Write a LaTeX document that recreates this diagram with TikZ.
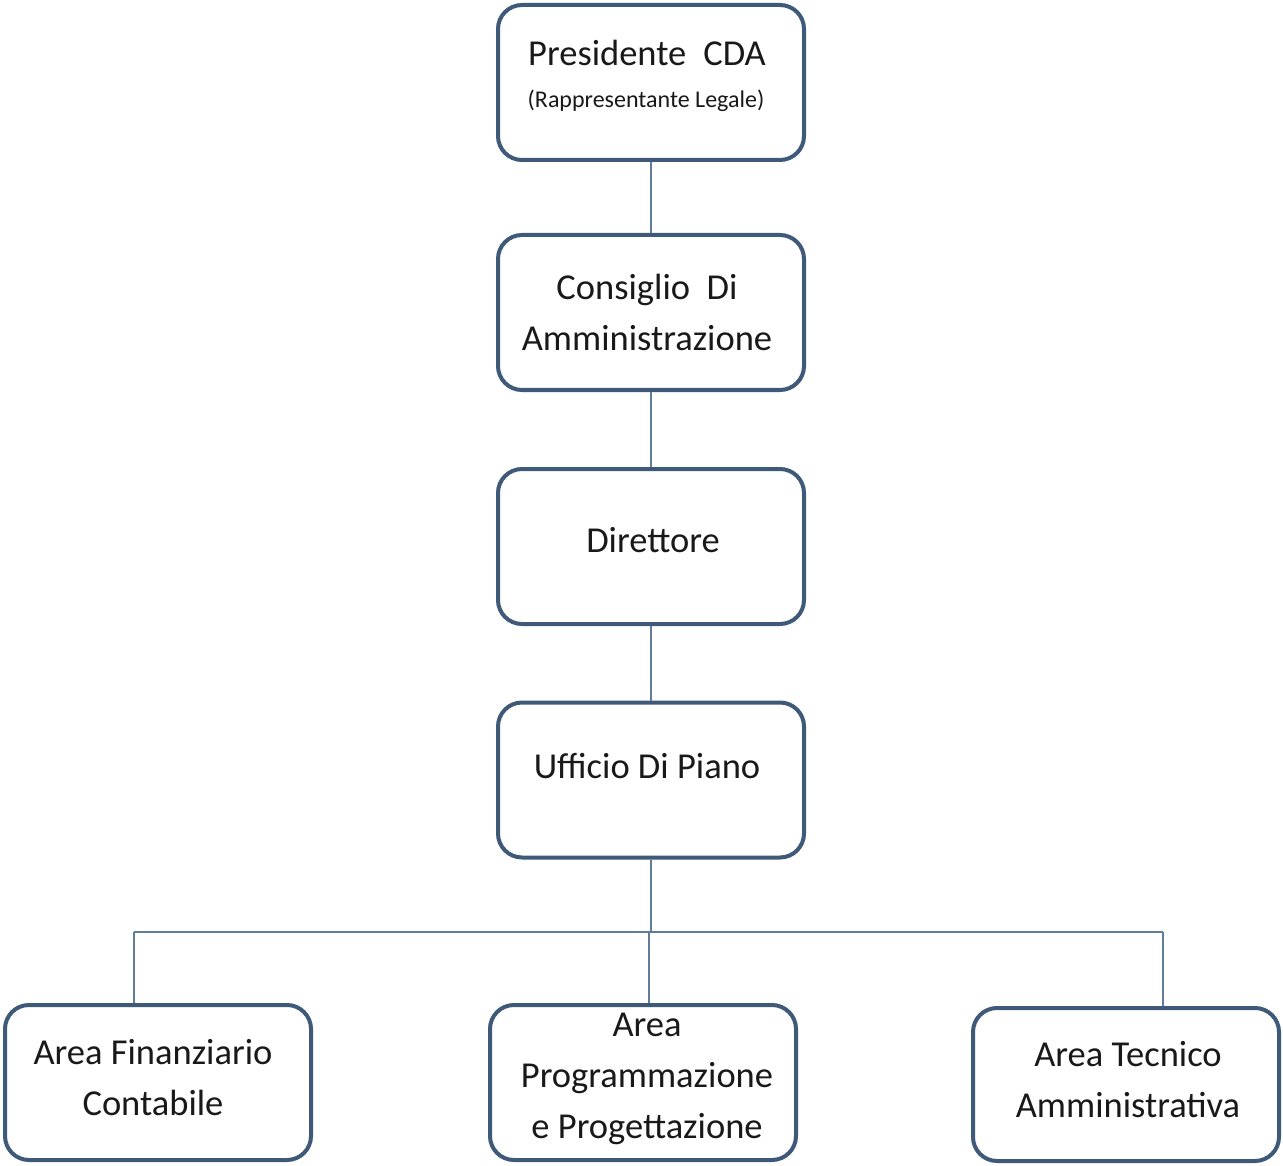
\documentclass[tikz,border=0pt]{standalone}
\usepackage{fontspec}
\setmainfont{Carlito}
\begin{document}
\begin{tikzpicture}[x=1pt,y=-1pt,
  box/.style={draw=boxc,line width=4pt,rounded corners=24pt,fill=white,minimum width=306pt,minimum height=155pt,inner sep=0pt},
  txt/.style={align=center,font=\fontsize{36.5}{51}\selectfont,text=black!90,inner sep=0pt},
  small/.style={align=center,font=\fontsize{24}{28}\selectfont,text=black!90,inner sep=0pt},
  link/.style={draw=linec,line width=1.4pt}]
\definecolor{boxc}{HTML}{3F5A78}
\definecolor{linec}{HTML}{5F7C98}
\useasboundingbox (0,0) rectangle (1283,1166);
\fill[white] (0,0) rectangle (1283,1166);
% boxes
\node[box] (b1) at (651,82.5) {};
\node[box] (b2) at (651,312.5) {};
\node[box] (b3) at (651,546.5) {};
\node[box] (b4) at (651,780) {};
\node[box] (bl) at (158,1082.5) {};
\node[box] (bm) at (643,1082.5) {};
\node[box,minimum height=153pt] (br) at (1126,1084.5) {};
% junctions
\coordinate (j) at (651,932);
\coordinate (jl) at (134,932);
\coordinate (jm) at (649,932);
\coordinate (jr) at (1163,932);
% connectors
\draw[link] (b1.south) -- (b2.north);
\draw[link] (b2.south) -- (b3.north);
\draw[link] (b3.south) -- (b4.north);
\draw[link] (b4.south) -- (j);
\draw[link] (jl) -- (jr);
\draw[link] (jl) -- (jl |- bl.north);
\draw[link] (jm) -- (jm |- bm.north);
\draw[link] (jr) -- (jr |- br.north);
% texts
\node[txt] (t1) at (647,53) {Presidente\hspace{17pt}CDA};
\node[small] (t1b) at (646,101) {(Rappresentante Legale)};
\node[txt] (t2) at (647,312) {Consiglio\ \ Di\\Amministrazione};
\node[txt] (t3) at (653,540) {Direttore};
\node[txt] (t4) at (647,766) {Ufficio Di Piano};
\node[txt] (tl) at (153,1078) {Area Finanziario\\Contabile};
\node[txt] (tm) at (647,1078.5) {Area\\Programmazione\\e Progettazione};
\node[txt] (tr) at (1128,1079.5) {Area Tecnico\\Amministrativa};
\end{tikzpicture}
\end{document}
